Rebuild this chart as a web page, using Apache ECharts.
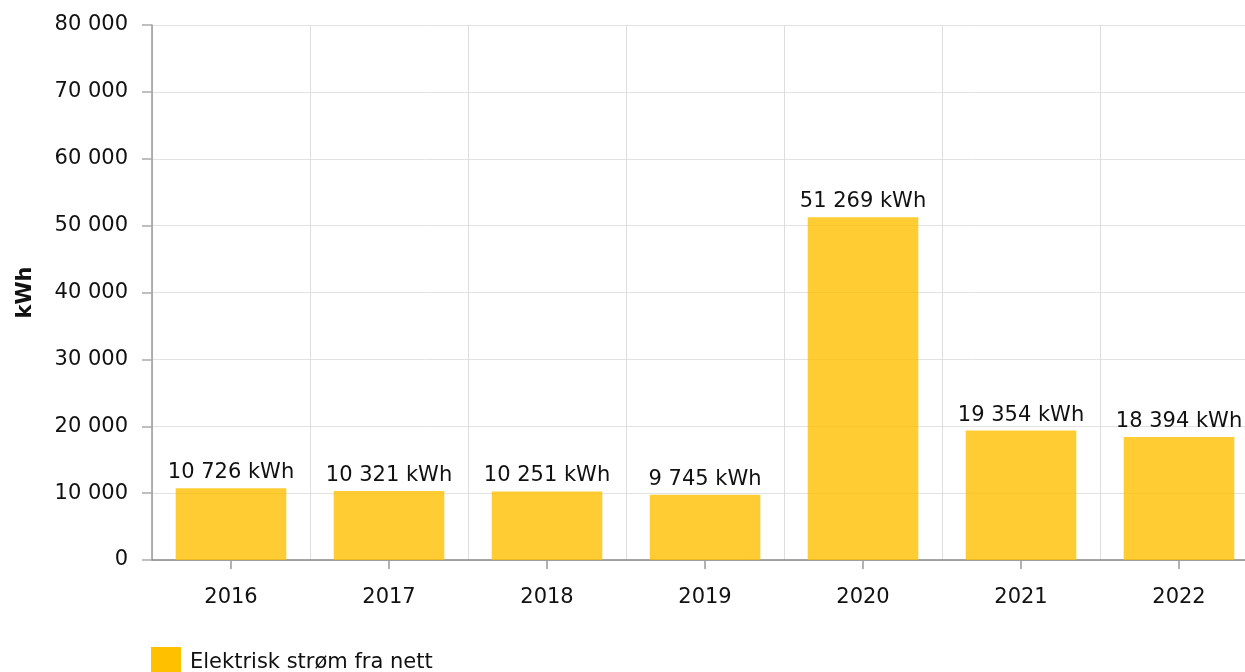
<!DOCTYPE html>
<html>
<head>
<meta charset="utf-8">
<script src="https://cdn.jsdelivr.net/npm/echarts@6/dist/echarts.min.js"></script>
<style>
  html, body { margin: 0; padding: 0; background: #fff; }
  #chart { width: 1245px; height: 672px; }
</style>
</head>
<body>
<div id="chart"></div>
<script>
const years = ["2016", "2017", "2018", "2019", "2020", "2021", "2022"]
const values = [10726, 10321, 10251, 9745, 51269, 19354, 18394]
const seriesName = "Elektrisk strøm fra nett"
const unit = "kWh"

// tusenskille med mellomrom
const fmt = v => String(v).replace(/\B(?=(\d{3})+(?!\d))/g, " ")

const font = "DejaVu Sans, Verdana, sans-serif"
const fs = 21
const chart = echarts.init(document.getElementById("chart"))

chart.setOption({
	animation: false,
	textStyle: { fontFamily: font },
	grid: { left: 152, top: 25, bottom: 112, width: 1106, outerBoundsMode: "none" },
	legend: {
		left: 151,
		top: 647,
		padding: 0,
		itemWidth: 30,
		itemHeight: 32,
		itemGap: 10,
		textStyle: { fontSize: fs, color: "#111", fontFamily: font, padding: [0, 0, 0, 4] },
		data: [{ name: seriesName, icon: "rect", itemStyle: { color: "#FFC000" } }]
	},
	xAxis: {
		type: "category",
		data: years,
		axisLine: { lineStyle: { color: "#888", width: 1.5 } },
		axisTick: { show: true, alignWithLabel: true, length: 9, lineStyle: { color: "#999", width: 1.5 } },
		axisLabel: { fontSize: fs, color: "#111", margin: 27, fontFamily: font },
		splitLine: { show: true, lineStyle: { color: "#ddd" } }
	},
	yAxis: {
		type: "value",
		min: 0,
		max: 80000,
		interval: 10000,
		name: unit,
		nameLocation: "middle",
		nameGap: 116,
		nameTextStyle: { fontSize: fs, fontWeight: "bold", color: "#111", fontFamily: font },
		axisLine: { show: true, lineStyle: { color: "#999", width: 1.5 } },
		axisTick: { show: true, length: 10, lineStyle: { color: "#aaa", width: 1.5 } },
		axisLabel: { fontSize: fs, color: "#111", margin: 24, formatter: fmt, fontFamily: font },
		splitLine: { show: true, lineStyle: { color: "#e2e2e2" } }
	},
	series: [{
		name: seriesName,
		type: "bar",
		data: values,
		barWidth: "70%",
		itemStyle: { color: "rgba(255,192,0,0.8)" },
		label: {
			show: true,
			position: "top",
			distance: 5,
			fontSize: fs,
			color: "#111",
			fontFamily: font,
			formatter: p => fmt(p.value) + " " + unit
		}
	}]
})
</script>
</body>
</html>
